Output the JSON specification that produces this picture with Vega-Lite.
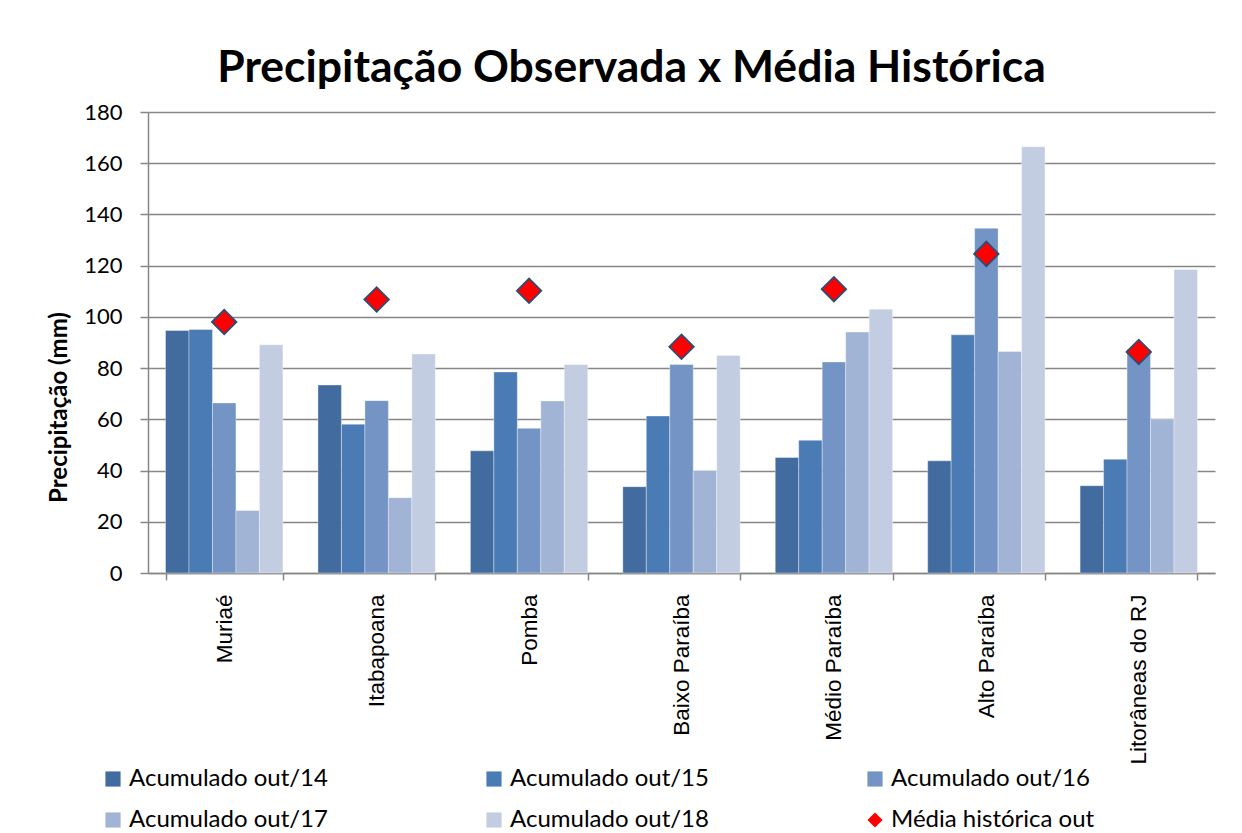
{
  "$schema": "https://vega.github.io/schema/vega-lite/v6.json",
  "width": 1067,
  "height": 461,
  "autosize": {"type": "none"},
  "padding": {"left": 148, "top": 112, "right": 27, "bottom": 260},
  "background": "#ffffff",
  "title": {
    "text": "Precipitação Observada x Média Histórica",
    "font": "Lato",
    "fontSize": 44.5,
    "fontWeight": "bold",
    "color": "#000000",
    "anchor": "middle",
    "frame": "group",
    "baseline": "alphabetic",
    "offset": 27,
    "dx": -50,
    "dy": 52
  },
  "datasets": {
    "barras": [
      {"bacia": "Muriaé", "serie": "Acumulado out/14", "valor": 94.7},
      {"bacia": "Muriaé", "serie": "Acumulado out/15", "valor": 95.1},
      {"bacia": "Muriaé", "serie": "Acumulado out/16", "valor": 66.4},
      {"bacia": "Muriaé", "serie": "Acumulado out/17", "valor": 24.4},
      {"bacia": "Muriaé", "serie": "Acumulado out/18", "valor": 89.1},
      {"bacia": "Itabapoana", "serie": "Acumulado out/14", "valor": 73.4},
      {"bacia": "Itabapoana", "serie": "Acumulado out/15", "valor": 58.1},
      {"bacia": "Itabapoana", "serie": "Acumulado out/16", "valor": 67.3},
      {"bacia": "Itabapoana", "serie": "Acumulado out/17", "valor": 29.4},
      {"bacia": "Itabapoana", "serie": "Acumulado out/18", "valor": 85.5},
      {"bacia": "Pomba", "serie": "Acumulado out/14", "valor": 47.7},
      {"bacia": "Pomba", "serie": "Acumulado out/15", "valor": 78.5},
      {"bacia": "Pomba", "serie": "Acumulado out/16", "valor": 56.5},
      {"bacia": "Pomba", "serie": "Acumulado out/17", "valor": 67.2},
      {"bacia": "Pomba", "serie": "Acumulado out/18", "valor": 81.4},
      {"bacia": "Baixo Paraíba", "serie": "Acumulado out/14", "valor": 33.7},
      {"bacia": "Baixo Paraíba", "serie": "Acumulado out/15", "valor": 61.3},
      {"bacia": "Baixo Paraíba", "serie": "Acumulado out/16", "valor": 81.4},
      {"bacia": "Baixo Paraíba", "serie": "Acumulado out/17", "valor": 40.0},
      {"bacia": "Baixo Paraíba", "serie": "Acumulado out/18", "valor": 84.9},
      {"bacia": "Médio Paraíba", "serie": "Acumulado out/14", "valor": 45.1},
      {"bacia": "Médio Paraíba", "serie": "Acumulado out/15", "valor": 51.8},
      {"bacia": "Médio Paraíba", "serie": "Acumulado out/16", "valor": 82.4},
      {"bacia": "Médio Paraíba", "serie": "Acumulado out/17", "valor": 94.1},
      {"bacia": "Médio Paraíba", "serie": "Acumulado out/18", "valor": 103.0},
      {"bacia": "Alto Paraíba", "serie": "Acumulado out/14", "valor": 43.8},
      {"bacia": "Alto Paraíba", "serie": "Acumulado out/15", "valor": 93.0},
      {"bacia": "Alto Paraíba", "serie": "Acumulado out/16", "valor": 134.6},
      {"bacia": "Alto Paraíba", "serie": "Acumulado out/17", "valor": 86.5},
      {"bacia": "Alto Paraíba", "serie": "Acumulado out/18", "valor": 166.4},
      {"bacia": "Litorâneas do RJ", "serie": "Acumulado out/14", "valor": 34.1},
      {"bacia": "Litorâneas do RJ", "serie": "Acumulado out/15", "valor": 44.4},
      {"bacia": "Litorâneas do RJ", "serie": "Acumulado out/16", "valor": 87.4},
      {"bacia": "Litorâneas do RJ", "serie": "Acumulado out/17", "valor": 59.9},
      {"bacia": "Litorâneas do RJ", "serie": "Acumulado out/18", "valor": 118.5}
    ],
    "media": [
      {"bacia": "Muriaé", "serie": "Média histórica out", "valor": 98.0},
      {"bacia": "Itabapoana", "serie": "Média histórica out", "valor": 106.8},
      {"bacia": "Pomba", "serie": "Média histórica out", "valor": 110.2},
      {"bacia": "Baixo Paraíba", "serie": "Média histórica out", "valor": 88.3},
      {"bacia": "Médio Paraíba", "serie": "Média histórica out", "valor": 110.8},
      {"bacia": "Alto Paraíba", "serie": "Média histórica out", "valor": 124.6},
      {"bacia": "Litorâneas do RJ", "serie": "Média histórica out", "valor": 86.3}
    ]
  },
  "encoding": {
    "x": {
      "field": "bacia",
      "type": "nominal",
      "sort": ["Muriaé", "Itabapoana", "Pomba", "Baixo Paraíba", "Médio Paraíba", "Alto Paraíba", "Litorâneas do RJ"],
      "scale": {"paddingInner": 0.23, "paddingOuter": 0.115},
      "axis": {
        "title": null,
        "labelAngle": -90,
        "labelFont": "Liberation Sans",
        "labelFontSize": 22.5,
        "labelColor": "#000000",
        "labelPadding": 14,
        "tickBand": "extent",
        "tickSize": 7,
        "tickColor": "#868686",
        "tickWidth": 1.5,
        "domainColor": "#868686",
        "domainWidth": 1.5,
        "grid": false
      }
    },
    "y": {
      "field": "valor",
      "type": "quantitative",
      "scale": {"domain": [0, 180], "nice": false},
      "axis": {
        "title": "Precipitação (mm)",
        "titleFont": "Lato",
        "titleFontSize": 24,
        "titleFontWeight": "bold",
        "titleColor": "#000000",
        "titleY": 295,
        "titlePadding": 12,
        "values": [0, 20, 40, 60, 80, 100, 120, 140, 160, 180],
        "labelFont": "Lato",
        "labelFontSize": 22,
        "labelColor": "#000000",
        "labelPadding": 18,
        "tickSize": 8,
        "tickColor": "#868686",
        "tickWidth": 1.5,
        "domainColor": "#868686",
        "domainWidth": 1.5,
        "grid": true,
        "gridColor": "#868686",
        "gridWidth": 1.5
      }
    },
    "color": {
      "field": "serie",
      "type": "nominal",
      "scale": {
        "domain": ["Acumulado out/14", "Acumulado out/15", "Acumulado out/16", "Acumulado out/17", "Acumulado out/18", "Média histórica out"],
        "range": ["#426C9F", "#4A7BB5", "#7394C5", "#A2B4D5", "#C2CDE2", "#FF0000"]
      },
      "legend": {
        "title": null,
        "orient": "none",
        "legendX": -47,
        "legendY": 655,
        "direction": "horizontal",
        "columns": 3,
        "gridAlign": "all",
        "columnPadding": 149,
        "rowPadding": 17,
        "symbolSize": 230,
        "symbolStrokeWidth": 0,
        "symbolOffset": 0,
        "labelFont": "Lato",
        "labelFontSize": 24,
        "labelColor": "#000000",
        "labelOffset": 4,
        "labelLimit": 400
      }
    }
  },
  "layer": [
    {
      "data": {"name": "barras"},
      "mark": {"type": "bar", "stroke": "#ffffff", "strokeWidth": 0.6, "strokeOpacity": 0.6},
      "encoding": {
        "xOffset": {
          "field": "serie",
          "type": "nominal",
          "scale": {"domain": ["Acumulado out/14", "Acumulado out/15", "Acumulado out/16", "Acumulado out/17", "Acumulado out/18"], "paddingInner": 0, "paddingOuter": 0}
        }
      }
    },
    {
      "data": {"name": "media"},
      "mark": {"type": "point", "filled": true, "size": 600, "stroke": "#2C4D75", "strokeWidth": 1.8, "opacity": 1},
      "encoding": {
        "shape": {
          "field": "serie",
          "type": "nominal",
          "scale": {
            "domain": ["Acumulado out/14", "Acumulado out/15", "Acumulado out/16", "Acumulado out/17", "Acumulado out/18", "Média histórica out"],
            "range": ["square", "square", "square", "square", "square", "diamond"]
          }
        }
      }
    }
  ],
  "config": {
    "view": {"stroke": null},
    "font": "Lato"
  }
}
